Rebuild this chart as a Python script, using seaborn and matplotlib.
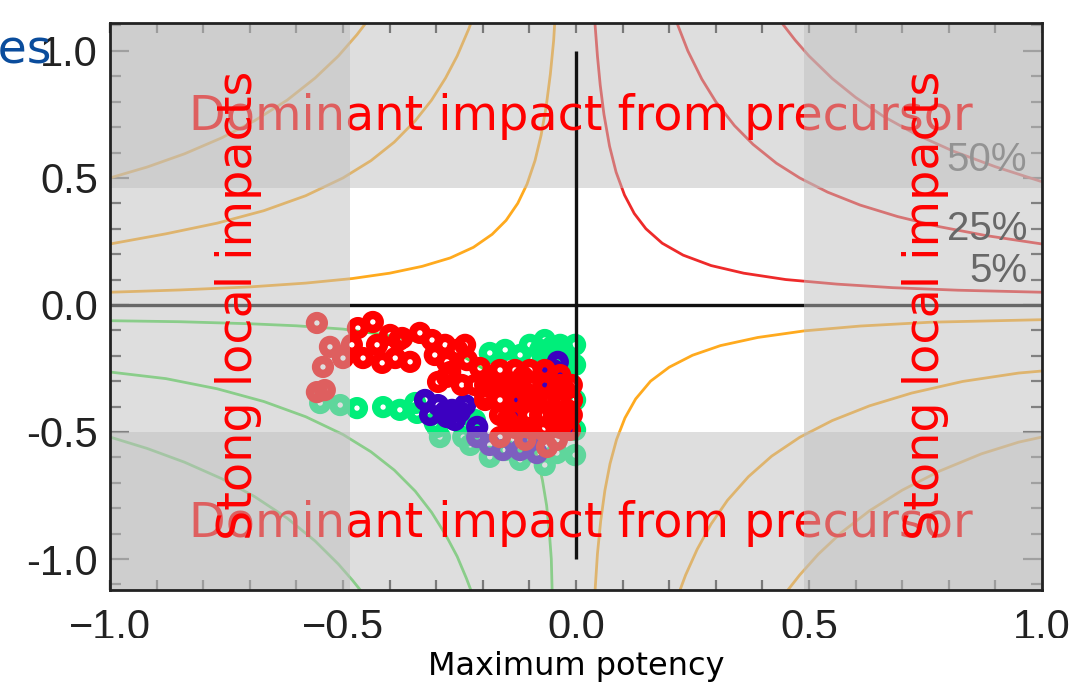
import matplotlib
matplotlib.use("Agg")
import matplotlib.pyplot as plt
import seaborn as sns
from matplotlib.patches import Rectangle

# ---------------- data ----------------
x_ticks = [-1.0, -0.5, 0.0, 0.5, 1.0]
x_tick_labels = ["\u22121.0", "\u22120.5", "0.0", "0.5", "1.0"]
y_ticks = [-1.0, -0.5, 0.0, 0.5, 1.0]
y_tick_labels = ["-1.0", "-0.5", "0.0", "0.5", "1.0"]
x_label = "Maximum potency"
text_h = "Dominant impact from precursor"
text_v = "Stong local impacts"
level_labels = ["50%", "25%", "5%"]
level_label_y = [0.57, 0.30, 0.134]
band_x = [-0.486, 0.49]      # left / right shaded bands
band_y = [-0.499, 0.459]     # bottom / top shaded bands

# contour lines (upper right, red)
red05_x = [0.040, 0.046, 0.052, 0.060, 0.072, 0.086, 0.104, 0.125, 0.150, 0.185, 0.23, 0.29, 0.36, 0.45, 0.56, 0.68, 0.82, 1.0]
red05_y = [1.125, 0.98, 0.865, 0.75, 0.625, 0.523, 0.433, 0.36, 0.30, 0.243, 0.196, 0.155, 0.125, 0.10, 0.082, 0.068, 0.058, 0.05]
red25_x = [0.213, 0.24, 0.27, 0.30, 0.34, 0.38, 0.43, 0.48, 0.54, 0.61, 0.69, 0.78, 0.88, 1.0]
red25_y = [1.127, 1.0, 0.889, 0.80, 0.706, 0.632, 0.558, 0.50, 0.444, 0.393, 0.348, 0.308, 0.273, 0.24]
red50_x = [0.44, 0.47, 0.50, 0.55, 0.60, 0.66, 0.73, 0.81, 0.90, 1.0]
red50_y = [1.114, 1.043, 0.98, 0.891, 0.817, 0.742, 0.671, 0.605, 0.544, 0.485]

# upper left, orange
oul1_x = [-1.0, -0.85, -0.7, -0.58, -0.48, -0.40, -0.33, -0.27, -0.22, -0.18, -0.15, -0.125, -0.105, -0.088, -0.075, -0.064, -0.055, -0.048, -0.045]
oul1_y = [0.05, 0.059, 0.071, 0.086, 0.104, 0.125, 0.152, 0.185, 0.227, 0.278, 0.333, 0.40, 0.476, 0.568, 0.667, 0.781, 0.909, 1.04, 1.13]
oul2_x = [-1.0, -0.88, -0.77, -0.67, -0.58, -0.5, -0.44, -0.39, -0.345, -0.31, -0.28, -0.255, -0.23, -0.22]
oul2_y = [0.24, 0.28, 0.322, 0.371, 0.43, 0.5, 0.568, 0.641, 0.725, 0.806, 0.893, 0.98, 1.087, 1.136]
oul3_x = [-1.0, -0.92, -0.84, -0.76, -0.69, -0.62, -0.56, -0.51, -0.47, -0.44]
oul3_y = [0.5, 0.543, 0.595, 0.658, 0.725, 0.806, 0.893, 0.98, 1.064, 1.136]

# lower right, orange
olr1_x = [0.04, 0.046, 0.053, 0.062, 0.073, 0.087, 0.105, 0.128, 0.16, 0.20, 0.25, 0.31, 0.39, 0.49, 0.61, 0.76, 1.0]
olr1_y = [-1.15, -0.98, -0.85, -0.73, -0.625, -0.53, -0.445, -0.37, -0.30, -0.245, -0.198, -0.16, -0.128, -0.102, -0.083, -0.068, -0.058]
olr2_x = [0.215, 0.235, 0.26, 0.29, 0.325, 0.37, 0.42, 0.48, 0.55, 0.63, 0.72, 0.83, 0.95, 1.0]
olr2_y = [-1.163, -1.064, -0.962, -0.862, -0.769, -0.676, -0.595, -0.521, -0.455, -0.397, -0.347, -0.301, -0.268, -0.26]
olr3_x = [0.45, 0.48, 0.52, 0.57, 0.63, 0.70, 0.78, 0.87, 0.95, 1.0]
olr3_y = [-1.133, -1.063, -0.981, -0.895, -0.81, -0.729, -0.654, -0.586, -0.54, -0.52]

# lower left, green
gll1_x = [-1.0, -0.85, -0.7, -0.6, -0.5, -0.42, -0.35, -0.29, -0.24, -0.2, -0.165, -0.138, -0.115, -0.097, -0.083, -0.072, -0.063, -0.057, -0.053, -0.051]
gll1_y = [-0.062, -0.066, -0.074, -0.082, -0.095, -0.115, -0.14, -0.17, -0.205, -0.25, -0.30, -0.36, -0.43, -0.51, -0.60, -0.69, -0.79, -0.90, -1.0, -1.14]
gll2_x = [-1.0, -0.88, -0.77, -0.67, -0.58, -0.5, -0.44, -0.39, -0.345, -0.31, -0.28, -0.255, -0.235, -0.222]
gll2_y = [-0.264, -0.29, -0.33, -0.38, -0.44, -0.51, -0.578, -0.65, -0.733, -0.816, -0.904, -0.99, -1.077, -1.14]
gll3_x = [-1.0, -0.92, -0.84, -0.76, -0.69, -0.62, -0.56, -0.51, -0.48, -0.455]
gll3_y = [-0.52, -0.565, -0.619, -0.684, -0.754, -0.839, -0.929, -1.02, -1.083, -1.14]

# scatter points
green_x = [-0.549, -0.470, -0.414, -0.345, -0.298, -0.341, -0.185, -0.052, -0.028, -0.071, -0.019, -0.217,
           -0.292, -0.242, -0.120, -0.185, -0.041, -0.077, -0.034, -0.013, -0.045, -0.303, -0.002, -0.002, -0.099,
           -0.099, -0.067, -0.002, -0.002, -0.120, -0.152, -0.152, -0.227, -0.067, -0.002, -0.506, -0.378]
green_y = [-0.386, -0.406, -0.402, -0.386, -0.480, -0.425, -0.189, -0.165, -0.177, -0.205, -0.268, -0.453,
           -0.520, -0.520, -0.610, -0.598, -0.583, -0.177, -0.157, -0.217, -0.256, -0.465, -0.374, -0.492, -0.551,
           -0.157, -0.138, -0.157, -0.236, -0.197, -0.177, -0.571, -0.551, -0.630, -0.591, -0.394, -0.413]
blue_x = [-0.296, -0.281, -0.266, -0.277, -0.249, -0.212, -0.049, -0.062, -0.135, -0.019, -0.212, -0.157, -0.099,
          -0.084, -0.039, -0.324, -0.238, -0.313, -0.260, -0.120, -0.185]
blue_y = [-0.394, -0.421, -0.413, -0.441, -0.421, -0.480, -0.256, -0.295, -0.402, -0.465, -0.520, -0.571, -0.531,
          -0.583, -0.224, -0.374, -0.394, -0.433, -0.453, -0.571, -0.551]
red_x = [-0.556, -0.528, -0.543, -0.500, -0.556, -0.539, -0.468, -0.436, -0.457, -0.481, -0.416, -0.388, -0.373,
         -0.356, -0.309, -0.303, -0.296, -0.380, -0.277, -0.255, -0.277, -0.234, -0.206, -0.185, -0.148, -0.114,
         -0.127, -0.084, -0.041, -0.019, -0.148, -0.114, -0.071, -0.028, -0.009, -0.163, -0.062, -0.041, -0.077,
         -0.045, -0.099, -0.034, -0.067, -0.163, -0.013, -0.195, -0.024, -0.217,
         -0.399, -0.335, -0.281, -0.238, -0.270, -0.245, -0.427,
         -0.163, -0.131, -0.099, -0.067,
         -0.195, -0.163, -0.131, -0.099, -0.067, -0.034, -0.009,
         -0.195, -0.131, -0.099, -0.067, -0.034, -0.009,
         -0.163, -0.131, -0.099, -0.067, -0.034, -0.009,
         -0.131, -0.099, -0.067, -0.034, -0.109]
red_y = [-0.071, -0.165, -0.244, -0.209, -0.343, -0.335, -0.091, -0.067, -0.209, -0.157, -0.228, -0.209, -0.130,
         -0.224, -0.138, -0.197, -0.303, -0.138, -0.224, -0.177, -0.283, -0.217, -0.248, -0.295, -0.323, -0.283,
         -0.374, -0.374, -0.335, -0.413, -0.453, -0.480, -0.492, -0.465, -0.374, -0.520, -0.559, -0.531, -0.433,
         -0.413, -0.354, -0.276, -0.315, -0.374, -0.492, -0.354, -0.335, -0.315,
         -0.118, -0.110, -0.157, -0.157, -0.264, -0.315, -0.157,
         -0.256, -0.256, -0.256, -0.256,
         -0.315, -0.315, -0.315, -0.315, -0.315, -0.315, -0.315,
         -0.374, -0.374, -0.374, -0.374, -0.374, -0.374,
         -0.433, -0.433, -0.433, -0.433, -0.433, -0.433,
         -0.484, -0.484, -0.484, -0.484, -0.531]

# ---------------- styling ----------------
sns.set_theme(style="white")
plt.rcParams["font.family"] = ["DejaVu Sans"]

W, H = 1077, 683
fig = plt.figure(figsize=(W / 100, H / 100), dpi=100)
fig.patch.set_facecolor("white")
ax = fig.add_axes([110 / W, (H - 590) / H, 932 / W, (590 - 22.7) / H])
ax.set_facecolor("white")

RED_C, ORA_C, GRN_C = "#ee2a2a", "#ffaa1e", "#55dd55"
curves = [
    (red05_x, red05_y, RED_C), (red25_x, red25_y, RED_C), (red50_x, red50_y, RED_C),
    (oul1_x, oul1_y, ORA_C), (oul2_x, oul2_y, ORA_C), (oul3_x, oul3_y, ORA_C),
    (olr1_x, olr1_y, ORA_C), (olr2_x, olr2_y, ORA_C), (olr3_x, olr3_y, ORA_C),
    (gll1_x, gll1_y, GRN_C), (gll2_x, gll2_y, GRN_C), (gll3_x, gll3_y, GRN_C),
]
for cx, cy, col in curves:
    sns.lineplot(x=cx, y=cy, sort=False, estimator=None, ax=ax, color=col, lw=2.0, zorder=2)

ring = dict(marker="o", s=100, facecolor="none", linewidth=6.0, zorder=3, legend=False)
sns.scatterplot(x=green_x, y=green_y, ax=ax, color="#00ee7a", edgecolor="#00ee7a", **ring)
sns.scatterplot(x=blue_x, y=blue_y, ax=ax, color="#3c00c0", edgecolor="#3c00c0", **ring)
sns.scatterplot(x=red_x, y=red_y, ax=ax, color="#ff0000", edgecolor="#ff0000", **ring)

# reference cross
ax.axhline(0, color="#111111", lw=2.4, zorder=3.5)
ax.vlines(0, y_ticks[0], y_ticks[-1], color="#111111", lw=2.4, zorder=4.5)

# level labels
for lab, ly in zip(level_labels, level_label_y):
    ax.text(0.968, ly, lab, ha="right", va="center", fontsize=29, color="#111111",
            family="Liberation Sans", zorder=3.6)

OVL = dict(color=(0.75, 0.75, 0.75), alpha=0.5, lw=0)
ax.axhspan(band_y[1], 1.3, zorder=4, **OVL)
ax.axhspan(-1.3, band_y[0], zorder=4, **OVL)

ax.text(0.01, 0.689, text_h, ha="center", va="baseline", fontsize=34.4, color="#ff0000", zorder=5)
ax.text(0.01, -0.913, text_h, ha="center", va="baseline", fontsize=34.4, color="#ff0000", zorder=5)

ax.axvspan(-1.3, band_x[0], zorder=6, **OVL)
ax.axvspan(band_x[1], 1.3, zorder=6, **OVL)

ax.text(-0.725, 0.0, text_v, rotation=90, ha="center", va="center", fontsize=34.4, color="#ff0000", zorder=7)
ax.text(0.751, 0.0, text_v, rotation=90, ha="center", va="center", fontsize=34.4, color="#ff0000", zorder=7)

# axes, ticks
ax.set_xlim(-1.0, 1.0)
ax.set_ylim(-1.122, 1.111)
ax.set_xticks(x_ticks)
ax.set_xticklabels(x_tick_labels, family="Liberation Sans", fontsize=30, color="#222222")
ax.set_xticks([t / 10 for t in range(-10, 11)], minor=True)
ax.set_yticks(y_ticks)
ax.set_yticklabels(y_tick_labels, family="Liberation Sans", fontsize=30, color="#222222")
ax.set_yticks([t / 10 for t in range(-11, 12)], minor=True)
ax.tick_params(axis="x", which="both", direction="in", length=7, width=1.6, color="#333333",
               top=True, bottom=True, pad=13)
ax.tick_params(axis="y", which="major", direction="in", length=14, width=1.6, color="#444444",
               left=True, right=True, pad=8.6)
ax.tick_params(axis="y", which="minor", direction="in", length=8, width=1.6, color="#444444",
               left=True, right=True)
ax.set_xlabel(x_label, fontsize=23, color="black", labelpad=2)
ax.set_ylabel("")
for sp in ax.spines.values():
    sp.set_visible(True)
    sp.set_color("#222222")
    sp.set_linewidth(2.0)
    sp.set_zorder(10)
ax.grid(False)

# clipped bottom of the pasted tick labels
fig.add_artist(Rectangle((0, (H - 649) / H), 1, 11 / H, transform=fig.transFigure,
                         facecolor="white", edgecolor="none", zorder=10))

# partial slide text at top-left
fig.text(52 / W, (H - 63) / H, "ses", ha="right", va="baseline", fontsize=34, color="#0a4c9c")

fig.savefig("out.png", dpi=100)
